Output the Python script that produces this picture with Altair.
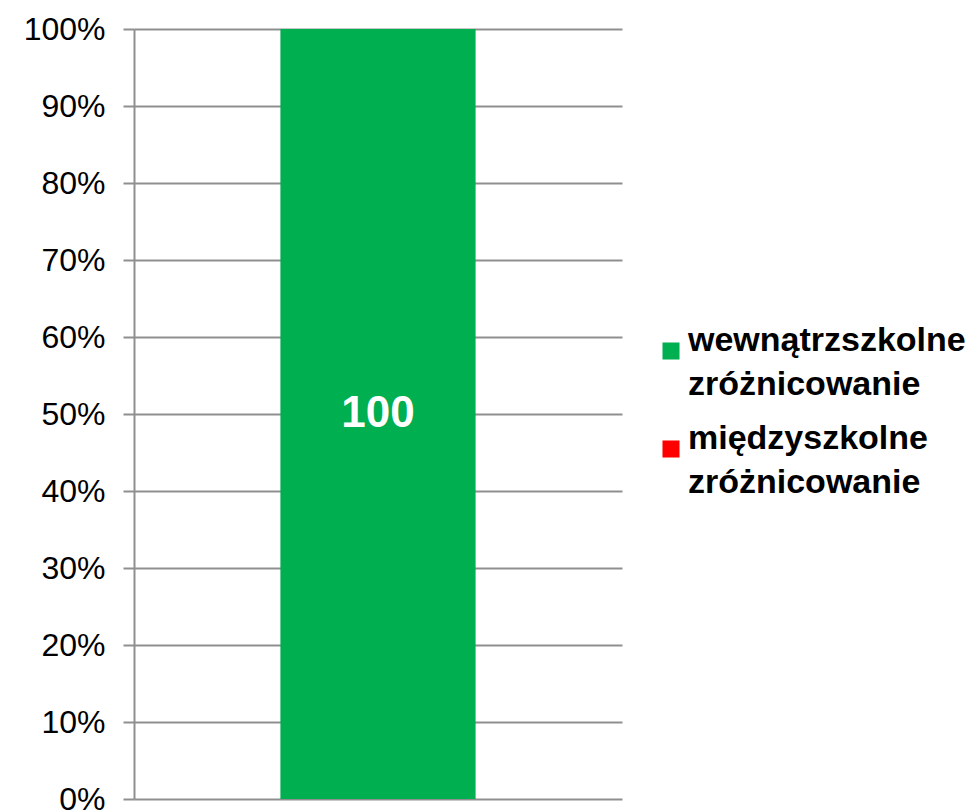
import altair as alt
import pandas as pd

categories = ["szkoła"]
series = ["wewnątrzszkolne zróżnicowanie", "międzyszkolne zróżnicowanie"]
values = [100, 0]
colors = ["#00AF50", "#FF0000"]

df = pd.DataFrame({
    "kategoria": [categories[0]] * len(series),
    "seria": series,
    "wartosc": values,
    "kolej": list(range(len(series))),
})

GRID = "#8f8f8f"
FONT = "Liberation Sans"

base = alt.Chart(df).transform_stack(
    stack="wartosc", groupby=["kategoria"], as_=["y0", "y1"],
    offset="normalize", sort=[alt.SortField("kolej", order="ascending")]
).transform_calculate(
    ymid="(datum.y0 + datum.y1) / 2"
)

x_enc = alt.X("kategoria:N", title=None,
              scale=alt.Scale(paddingInner=0, paddingOuter=0.75),
              axis=None)

bars = base.mark_bar().encode(
    x=x_enc,
    y=alt.Y("y0:Q", title=None,
            scale=alt.Scale(domain=[0, 1], nice=False),
            axis=alt.Axis(format=".0%", values=[i / 10 for i in range(11)],
                          labelFont=FONT, labelFontSize=32, labelColor="#000000",
                          labelPadding=18, tickSize=11, tickColor=GRID, tickWidth=2,
                          domainColor=GRID, domainWidth=2,
                          grid=True, gridColor=GRID, gridWidth=2)),
    y2="y1:Q",
    color=alt.Color("seria:N",
                    scale=alt.Scale(domain=series, range=colors),
                    sort=series,
                    legend=alt.Legend(title=None, orient="none",
                                      legendX=520, legendY=305,
                                      symbolType="square", symbolSize=290,
                                      symbolStrokeWidth=0,
                                      labelFont=FONT, labelFontSize=34,
                                      labelFontWeight="bold", labelColor="#000000",
                                      labelExpr="split(datum.label, ' ')",
                                      labelBaseline="alphabetic",
                                      labelLimit=400, labelOffset=0,
                                      rowPadding=20, padding=0)),
    order=alt.Order("kolej:Q"),
)

labels = base.transform_filter("datum.wartosc > 0").mark_text(
    font=FONT, fontSize=44, fontWeight="bold", color="#ffffff", baseline="middle"
).encode(
    x=x_enc,
    y=alt.Y("ymid:Q"),
    text=alt.Text("wartosc:Q"),
)

chart = alt.layer(bars, labels).properties(
    width=488, height=770,
    autosize=alt.AutoSizeParams(type="none"),
    padding={"left": 126, "top": 21, "right": 349, "bottom": 12},
)
chart.config = alt.Config(
    view=alt.ViewConfig(stroke=None),
    style={"guide-label": {"lineHeight": 44}},
)

chart.save("out.html", embed_options={"renderer": "svg", "actions": False})
